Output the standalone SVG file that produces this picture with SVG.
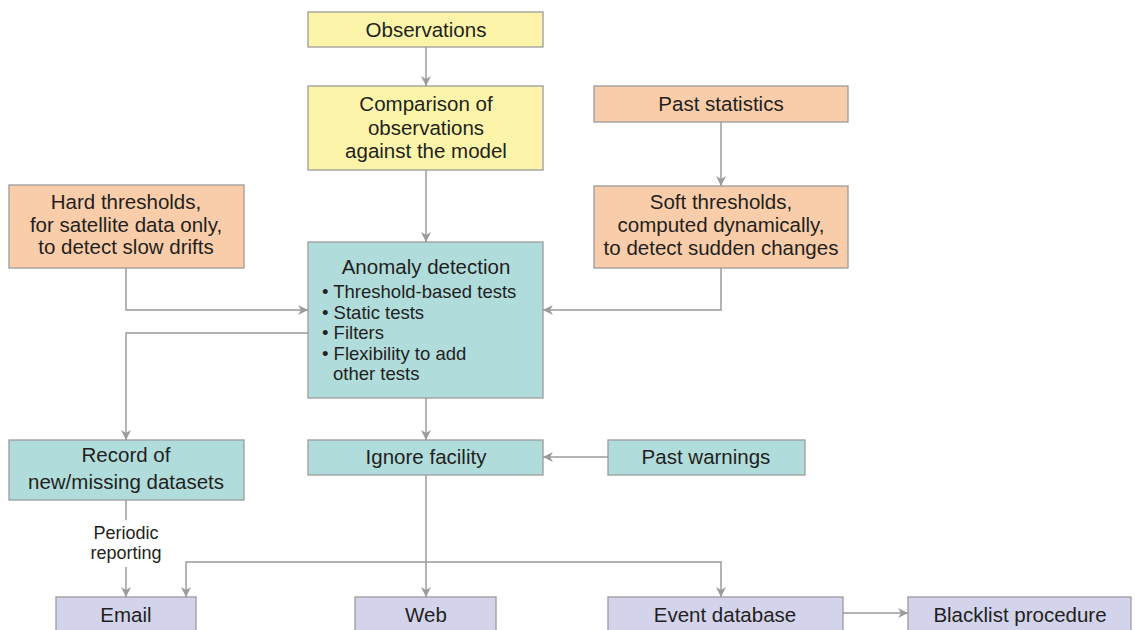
<svg xmlns="http://www.w3.org/2000/svg" width="1135" height="630" viewBox="0 0 1135 630">
<defs>
<style>
rect{stroke:#9b9b9b;stroke-width:1.3}
.y{fill:#fcf5a9}.o{fill:#f9cdaa}.t{fill:#b1dcdc}.p{fill:#d3d4ec}
text{font-family:"Liberation Sans",Arial,sans-serif;fill:#231f20}
.m{font-size:20.5px;text-anchor:middle}
.s{font-size:18.5px}
.sc{font-size:18px;text-anchor:middle}
#conn path{fill:none;stroke:#9b9b9b;stroke-width:1.5}
</style>
<marker id="ah" viewBox="0 0 10 10" refX="10" refY="5" markerWidth="10" markerHeight="10" markerUnits="userSpaceOnUse" orient="auto">
<path d="M0,0 L10,5 L0,10 L3,5 z" fill="#9b9b9b"/>
</marker>
</defs>
<rect width="1135" height="630" fill="#fff" style="stroke:none"/>
<g id="conn">
<path d="M426,47 V86" marker-end="url(#ah)"/>
<path d="M426,170 V242" marker-end="url(#ah)"/>
<path d="M721,122 V186" marker-end="url(#ah)"/>
<path d="M126,268 V310 H308" marker-end="url(#ah)"/>
<path d="M721,268 V310 H543" marker-end="url(#ah)"/>
<path d="M308,333 H126 V440" marker-end="url(#ah)"/>
<path d="M426,398 V440" marker-end="url(#ah)"/>
<path d="M608,457 H543" marker-end="url(#ah)"/>
<path d="M126,500 V520"/>
<path d="M126,567 V597" marker-end="url(#ah)"/>
<path d="M426,475 V597" marker-end="url(#ah)"/>
<path d="M426,562 H186 V597" marker-end="url(#ah)"/>
<path d="M426,562 H721 V597" marker-end="url(#ah)"/>
<path d="M843,613 H908" marker-end="url(#ah)"/>
</g>
<g id="observations"><rect class="y" x="308" y="12" width="235" height="35"/><text class="m" x="426" y="36.5">Observations</text></g>
<g id="comparison"><rect class="y" x="308" y="86" width="235" height="84"/><text class="m" x="426" y="111">Comparison of</text><text class="m" x="426" y="134.5">observations</text><text class="m" x="426" y="158">against the model</text></g>
<g id="past-statistics"><rect class="o" x="594" y="86" width="254" height="36"/><text class="m" x="721" y="111">Past statistics</text></g>
<g id="soft-thresholds"><rect class="o" x="594" y="186" width="254" height="82"/><text class="m" x="721" y="209">Soft thresholds,</text><text class="m" x="721" y="232">computed dynamically,</text><text class="m" x="721" y="255">to detect sudden changes</text></g>
<g id="hard-thresholds"><rect class="o" x="9" y="185" width="235" height="83"/><text class="m" x="126" y="209">Hard thresholds,</text><text class="m" x="126" y="232">for satellite data only,</text><text class="m" x="126" y="254">to detect slow drifts</text></g>
<g id="anomaly-detection"><rect class="t" x="308" y="242" width="235" height="156"/><text class="m" x="426" y="274">Anomaly detection</text>
<text class="s" x="322" y="298">• Threshold-based tests</text>
<text class="s" x="322" y="319">• Static tests</text>
<text class="s" x="322" y="339">• Filters</text>
<text class="s" x="322" y="360">• Flexibility to add</text>
<text class="s" x="333" y="380">other tests</text></g>
<g id="record"><rect class="t" x="9" y="440" width="235" height="60"/><text class="m" x="126" y="462">Record of</text><text class="m" x="126" y="489">new/missing datasets</text></g>
<g id="ignore-facility"><rect class="t" x="308" y="440" width="235" height="35"/><text class="m" x="426" y="464">Ignore facility</text></g>
<g id="past-warnings"><rect class="t" x="608" y="440" width="197" height="35"/><text class="m" x="706" y="464">Past warnings</text></g>
<g id="periodic-label"><text class="sc" x="126" y="539">Periodic</text><text class="sc" x="126" y="559">reporting</text></g>
<g id="email"><rect class="p" x="56" y="597" width="140" height="45"/><text class="m" x="126" y="622">Email</text></g>
<g id="web"><rect class="p" x="355" y="597" width="141" height="45"/><text class="m" x="426" y="622">Web</text></g>
<g id="event-database"><rect class="p" x="608" y="597" width="235" height="45"/><text class="m" x="725" y="622">Event database</text></g>
<g id="blacklist"><rect class="p" x="908" y="597" width="223" height="45"/><text class="m" x="1020" y="622">Blacklist procedure</text></g>
</svg>
